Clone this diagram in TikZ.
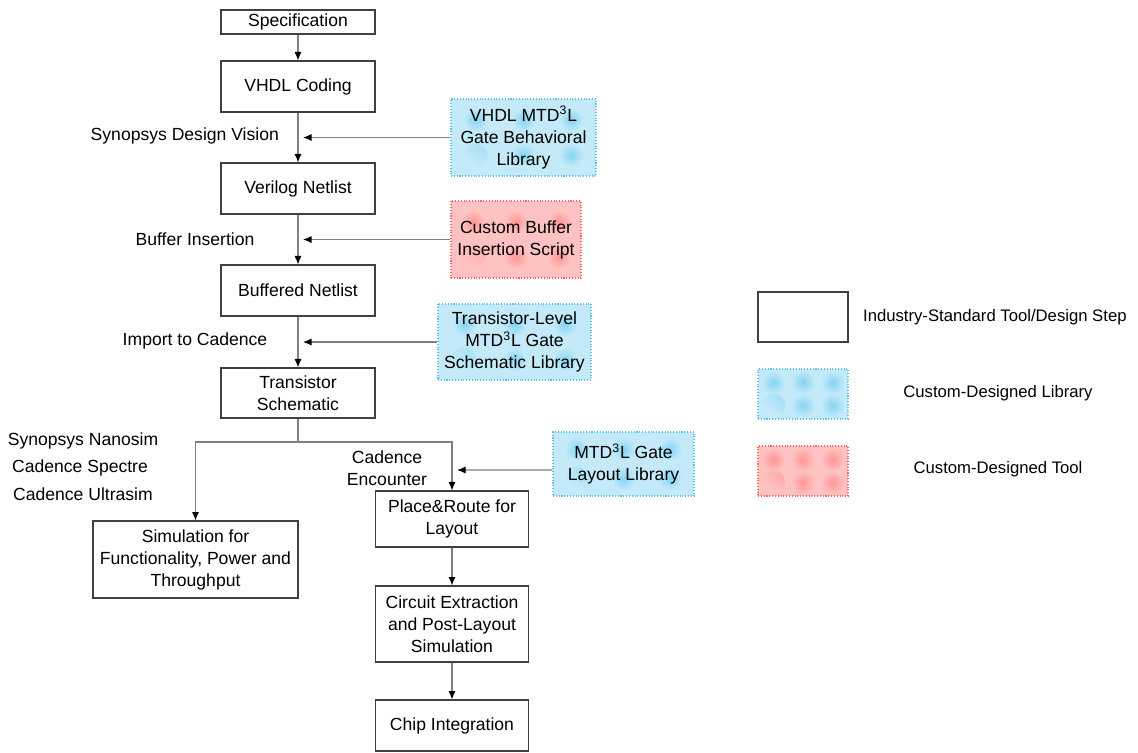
\documentclass[tikz,border=0pt]{standalone}
\usepackage{fontspec}
\setmainfont{Liberation Sans}
\usetikzlibrary{arrows.meta,calc}
\definecolor{boxline}{HTML}{404040}
\definecolor{conn}{HTML}{808080}
\definecolor{libfill}{HTML}{C4EAFA}
\definecolor{libspot}{HTML}{86D4F2}
\definecolor{libline}{HTML}{5CC0EC}
\definecolor{toolfill}{HTML}{FFC2C2}
\definecolor{toolspot}{HTML}{FF9696}
\definecolor{toolline}{HTML}{FF6060}
\tikzset{
  spots/.style 2 args={path picture={
    \foreach \fx in {0.17,0.5,0.83}{\foreach \fy in {0.27,0.73}{
      \shade[inner color=#1,outer color=#2]
        let \p1=(path picture bounding box.south west),
            \p2=(path picture bounding box.north east) in
        ({\x1+\fx*(\x2-\x1)},{\y1+\fy*(\y2-\y1)}) circle[radius=0.24cm];
    }}
  }},
  box/.style={draw=boxline, fill=white, align=center, inner sep=2pt, line width=0.6pt,
    font=\fontsize{10}{12.5}\selectfont},
  lib/.style={draw=libline, densely dotted, fill=libfill, spots={libspot}{libfill},
    align=center, inner sep=2pt, line width=0.6pt, font=\fontsize{10}{12.5}\selectfont},
  tool/.style={draw=toolline, densely dotted, fill=toolfill, spots={toolspot}{toolfill},
    align=center, inner sep=2pt, line width=0.6pt, font=\fontsize{10}{12.5}\selectfont},
  lbl/.style={align=center, inner sep=1pt, font=\fontsize{10}{12.5}\selectfont},
  leg/.style={align=center, inner sep=1pt, font=\fontsize{9.5}{12}\selectfont},
  arr/.style={draw=conn, line width=0.6pt, -{Latex[length=0.17cm,width=0.14cm,color=black]}},
  ln/.style={draw=conn, line width=0.6pt}
}
\begin{document}
\begin{tikzpicture}[x=0.02cm,y=-0.02cm]
\useasboundingbox (0,0) rectangle (1138,752);
% main flow
\node[box, minimum width=3.08cm, minimum height=0.48cm] (spec) at (298,22) {Specification};
\node[box, minimum width=3.08cm, minimum height=1.02cm] (vhdl) at (298,86.5) {VHDL Coding};
\node[box, minimum width=3.08cm, minimum height=1.02cm] (veri) at (298,188.5) {Verilog Netlist};
\node[box, minimum width=3.08cm, minimum height=1.02cm] (buf) at (298,290.5) {Buffered Netlist};
\node[box, minimum width=3.08cm, minimum height=1.0cm] (trans) at (298,393) {Transistor\\Schematic};
\node[box, minimum width=4.10cm, minimum height=1.54cm] (sim) at (195.5,559.5) {Simulation for\\Functionality, Power and\\Throughput};
\node[box, minimum width=3.06cm, minimum height=1.12cm] (pr) at (452,519) {Place\&Route for\\Layout};
\node[box, minimum width=3.06cm, minimum height=1.52cm] (ce) at (452,624) {Circuit Extraction\\and Post-Layout\\Simulation};
\node[box, minimum width=3.06cm, minimum height=1.02cm] (chip) at (452,725.5) {Chip Integration};
% libraries / tools
\node[lib, minimum width=2.90cm, minimum height=1.54cm] (lib1) at (523.5,137.5) {VHDL MTD\textsuperscript{3}L\\Gate Behavioral\\Library};
\node[tool, minimum width=2.60cm, minimum height=1.54cm] (lib2) at (516,239.5) {Custom Buffer\\Insertion Script};
\node[lib, minimum width=3.06cm, minimum height=1.52cm] (lib3) at (514.5,342) {Transistor-Level\\MTD\textsuperscript{3}L Gate\\Schematic Library};
\node[lib, minimum width=2.82cm, minimum height=1.28cm] (lib4) at (623.5,464) {MTD\textsuperscript{3}L Gate\\Layout Library};
% labels
\node[lbl, anchor=east] (l1) at (281,136) {Synopsys Design Vision};
\node[lbl] (l2) at (195,239) {Buffer Insertion};
\node[lbl] (l3) at (195,341) {Import to Cadence};
\node[lbl] (l4) at (387,468) {Cadence\\Encounter};
\node[lbl] (l5) at (83,441) {Synopsys Nanosim};
\node[lbl] (l6) at (80,468) {Cadence Spectre};
\node[lbl] (l7) at (83,494) {Cadence Ultrasim};
% connectors
\draw[arr] (spec) -- (vhdl);
\draw[arr] (vhdl) -- (veri);
\draw[arr] (veri) -- (buf);
\draw[arr] (buf) -- (trans);
\coordinate (a1) at (303,137.5);
\coordinate (a2) at (303,239.5);
\coordinate (a3) at (303,342);
\coordinate (a4) at (457,470);
\draw[arr] (lib1.west) -- (a1);
\draw[arr] (lib2.west) -- (a2);
\draw[arr] (lib3.west) -- (a3);
\draw[arr] ([yshift=-0.12cm]lib4.west) -- (a4);
\coordinate (br) at (298,442);
\draw[ln] (trans.south) -- (br);
\draw[arr] (br) -| (sim.north);
\draw[arr] (br) -| (pr.north);
\draw[arr] (pr) -- (ce);
\draw[arr] (ce) -- (chip);
% legend
\node[box, minimum width=1.80cm, minimum height=1.0cm] (g1) at (803,317) {};
\node[lib, minimum width=1.80cm, minimum height=1.0cm] (g2) at (803,394) {};
\node[tool, minimum width=1.80cm, minimum height=1.0cm] (g3) at (803,471) {};
\node[leg, anchor=west] (t1) at (861,317) {Industry-Standard Tool/Design Step};
\node[leg] (t2) at (998,393) {Custom-Designed Library};
\node[leg] (t3) at (998,469) {Custom-Designed Tool};
\end{tikzpicture}
\end{document}
